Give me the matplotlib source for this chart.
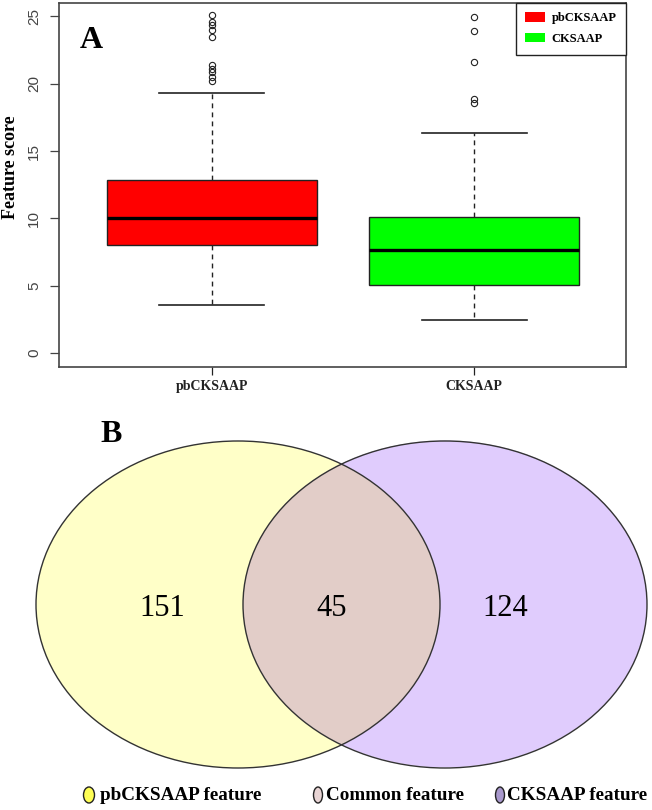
import matplotlib as mpl
mpl.use('Agg')
import matplotlib.pyplot as plt
from matplotlib.patches import Patch, Ellipse

# ---- data ----
groups = ['pbCKSAAP', 'CKSAAP']
box_colors = ['#ff0000', '#00ff00']
q1 = [8.05, 5.05]
med = [10.05, 7.67]
q3 = [12.82, 10.08]
whislo = [3.55, 2.48]
whishi = [19.3, 16.37]
outliers_pb = [20.2, 20.5, 20.9, 21.1, 21.4, 23.5, 24.0, 24.4, 24.6, 25.1]
outliers_ck = [18.55, 18.87, 21.65, 23.93, 24.93]

venn_labels = ['pbCKSAAP feature', 'Common feature', 'CKSAAP feature']
venn_counts = [151, 45, 124]
venn_colors = ['#ffffc8', '#e2cdc8', '#e0ccfd']
key_colors = ['#ffff55', '#e8d4d4', '#a898cc']

W, H = 652, 810
SERIF = ['Liberation Serif', 'DejaVu Serif']
SANS = ['Liberation Sans', 'DejaVu Sans']

fig = plt.figure(figsize=(W / 100, H / 100), dpi=100)

# ---- panel A: boxplot ----
ax = fig.add_axes([59 / W, 1 - 367 / H, (626 - 59) / W, (367 - 3) / H])
stats = []
fliers = [outliers_pb, outliers_ck]
for i in range(len(groups)):
    stats.append(dict(label=groups[i], med=med[i], q1=q1[i], q3=q3[i],
                      whislo=whislo[i], whishi=whishi[i], fliers=fliers[i]))
bp = ax.bxp(stats, positions=[1, 2], widths=0.8, capwidths=0.4,
            patch_artist=True,
            boxprops=dict(edgecolor='#222222', linewidth=1.0),
            medianprops=dict(color='black', linewidth=2.4),
            whiskerprops=dict(color='#222222', linestyle=(0, (3.5, 3)), linewidth=1.0),
            capprops=dict(color='#222222', linewidth=1.2),
            flierprops=dict(marker='o', markersize=4.5, markerfacecolor='none',
                            markeredgecolor='#222222', markeredgewidth=0.8))
for patch, c in zip(bp['boxes'], box_colors):
    patch.set_facecolor(c)

ax.set_xlim(0.418, 2.579)
ax.set_ylim(-1.04, 26.0)
ax.set_yticks([0, 5, 10, 15, 20, 25])
ax.set_xticks([1, 2])
ax.set_xticklabels(groups, family=SERIF, fontweight='bold', fontsize=10)
for lab in ax.get_yticklabels():
    lab.set_family(SANS)
    lab.set_rotation(90)
    lab.set_va('center')
    lab.set_fontsize(11)
    lab.set_color('#444444')
ax.tick_params(axis='y', length=6.5, width=0.9, pad=6.5, colors='#444444')
ax.tick_params(axis='x', length=6, width=0.9, pad=3.5, colors='#222222')
for sp in ax.spines.values():
    sp.set_color('#444444')
    sp.set_linewidth(1.2)

fig.text(11 / W, 1 - 167 / H, 'Feature score', rotation=90, ha='center', va='center',
         family=SERIF, fontweight='bold', fontsize=13)
fig.text(91 / W, 1 - 40 / H, 'A', ha='center', va='center', family=SERIF,
         fontweight='bold', fontsize=23)

handles = [Patch(facecolor=c, edgecolor='none') for c in box_colors]
leg = ax.legend(handles, groups, loc='upper right', borderaxespad=0,
                fancybox=False, edgecolor='#222222', framealpha=1,
                prop=dict(family=SERIF, weight='bold', size=9),
                handlelength=1.6, handleheight=0.75, handletextpad=0.5,
                labelspacing=0.7, borderpad=0.75)
leg.get_frame().set_linewidth(1.0)

# ---- panel B: venn diagram (pixel coordinates) ----
vx = fig.add_axes([0, 0, 1, 1])
vx.set_xlim(0, W)
vx.set_ylim(H, 0)
vx.axis('off')

left = Ellipse((238, 604.5), 404, 327, facecolor=venn_colors[0], edgecolor='none')
right = Ellipse((445, 604), 404, 327, facecolor=venn_colors[2], edgecolor='none')
vx.add_patch(left)
vx.add_patch(right)
common = Ellipse((445, 604), 404, 327, facecolor=venn_colors[1], edgecolor='none')
vx.add_patch(common)
common.set_clip_path(left)
for cx in (238, 445):
    vx.add_patch(Ellipse((cx, 604.5), 404, 327, facecolor='none',
                         edgecolor='#333333', linewidth=1.0))

for x, n in zip([162, 332, 505], venn_counts):
    vx.text(x, 608, str(n), ha='center', va='center', family=SERIF, fontsize=22)

vx.text(111, 434, 'B', ha='center', va='center', family=SERIF,
        fontweight='bold', fontsize=23)

# bottom key
key_x = [89, 318, 500]
key_w = [11, 9, 9]
text_x = [100, 326, 507]
for i in range(3):
    vx.add_patch(Ellipse((key_x[i], 795), key_w[i], 16, facecolor=key_colors[i],
                         edgecolor='#222222', linewidth=1.0))
    vx.text(text_x[i], 796, venn_labels[i], ha='left', va='center', family=SERIF,
            fontweight='bold', fontsize=13.8)

fig.savefig('out.png', dpi=100)
